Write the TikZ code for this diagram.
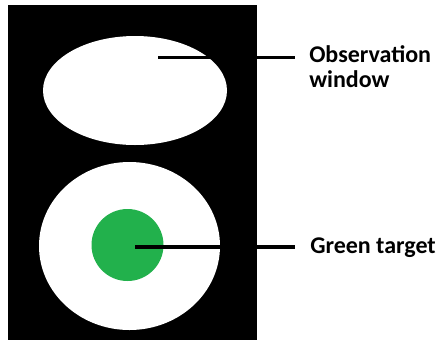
\documentclass[tikz,border=0pt]{standalone}
\usepackage{fontspec}
\setmainfont{Carlito}
\definecolor{tgreen}{RGB}{34,177,76}
\tikzset{
  lead/.style={line width=2.3pt},
  lbl/.style={font=\bfseries\fontsize{18}{18.75}\selectfont, anchor=base west, inner sep=0pt}
}
\begin{document}
\begin{tikzpicture}[x=0.75pt,y=-0.75pt]
\useasboundingbox (0,0) rectangle (442,340);
\fill[white] (0,0) rectangle (442,340);
\fill[black] (8,5) rectangle (257,340);
\fill[white] (135,90.5) ellipse [x radius=92, y radius=54.5];
\fill[white] (129.5,246) ellipse [x radius=90.5, y radius=84];
\fill[tgreen] (127.5,245) circle [radius=36];
\coordinate (w1) at (158,57.5);
\coordinate (w2) at (295,57.5);
\coordinate (g1) at (135,247);
\coordinate (g2) at (295,247);
\draw[lead] (w1) -- (w2);
\draw[lead] (g1) -- (g2);
\node[lbl] (obs) at (309,62) {Observation};
\node[lbl] (win) at (309,87) {window};
\node[lbl] (grn) at (310,253) {Green target};
\end{tikzpicture}
\end{document}
